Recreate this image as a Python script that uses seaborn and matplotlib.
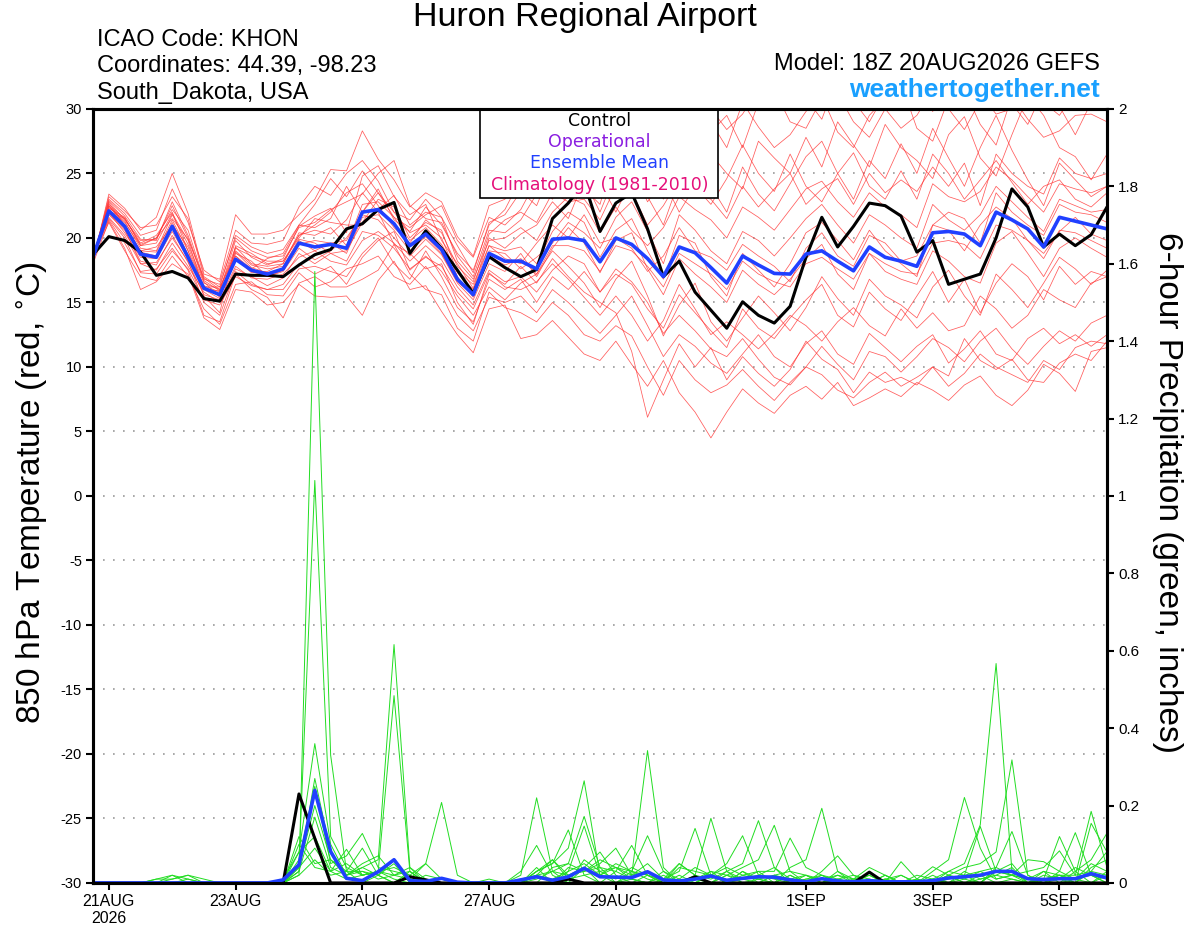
import numpy as np
import pandas as pd
import matplotlib
matplotlib.use('Agg')
import matplotlib.pyplot as plt
from matplotlib.patches import Rectangle
import seaborn as sns

# 6-hourly GEFS steps, 18Z 20AUG2026 -> 18Z 05SEP2026
times = pd.date_range('2026-08-20 18:00', periods=65, freq='6h')

# 850 hPa temperature (deg C)
control_t = [18.7, 20.1, 19.8, 18.9, 17.1, 17.4, 16.9, 15.3, 15.1, 17.2, 17.1, 17.1, 17.0,
             17.9, 18.7, 19.1, 20.7, 21.1, 22.2, 22.75, 18.8, 20.55, 19.2, 17.5, 15.7, 18.55,
             17.7, 17.0, 17.55, 21.5, 22.7, 24.3, 20.5, 22.7, 23.5, 20.7, 17.0, 18.2, 15.8,
             14.4, 13.0, 15.05, 14.0, 13.4, 14.7, 18.5, 21.6, 19.3, 20.9, 22.7, 22.5, 21.7,
             18.9, 19.8, 16.4, 16.8, 17.2, 20.0, 23.8, 22.4, 19.3, 20.3, 19.4, 20.25, 22.4]
mean_t = [18.5, 22.1, 20.9, 18.75, 18.5, 20.9, 18.5, 16.1, 15.6, 18.35, 17.5, 17.2, 17.6,
          19.6, 19.3, 19.5, 19.2, 22.0, 22.2, 21.1, 19.4, 20.3, 19.1, 16.8, 15.6, 18.8,
          18.2, 18.2, 17.6, 19.9, 20.0, 19.8, 18.15, 20.0, 19.5, 18.4, 17.0, 19.3, 18.85,
          17.7, 16.5, 18.6, 17.9, 17.25, 17.2, 18.75, 19.0, 18.2, 17.45, 19.3, 18.5, 18.2,
          17.8, 20.4, 20.5, 20.3, 19.4, 22.0, 21.4, 20.7, 19.3, 21.6, 21.3, 21.0, 20.7]

t01 = [18.2, 23.4, 22.3, 20.6, 21.6, 25.0, 21.9, 17.2, 16.8, 21.8, 20.3, 20.3, 20.6,
       21.8, 23.0, 25.3, 25.2, 28.3, 26.1, 24.5, 22.4, 23.5, 22.8, 20.1, 18.6, 22.5,
       23.0, 25.5, 24.0, 27.0, 28.8, 29.5, 26.0, 29.5, 31.0, 28.3, 25.5, 29.0, 30.8,
       29.0, 27.0, 30.5, 28.6, 27.0, 28.0, 29.8, 31.0, 28.2, 27.0, 29.5, 30.8, 32.0,
       28.5, 27.5, 30.8, 31.5, 28.8, 27.2, 31.0, 29.2, 27.8, 28.3, 29.5, 29.6, 29.0]
t02 = [18.0, 21.3, 19.2, 16.0, 16.6, 18.0, 17.2, 13.8, 12.9, 16.0, 15.8, 14.8, 15.0,
       16.4, 15.5, 15.4, 15.5, 14.0, 16.7, 18.2, 16.0, 16.3, 14.3, 12.5, 11.1, 14.5,
       14.8, 12.2, 12.5, 13.6, 12.3, 11.0, 10.5, 12.0, 10.2, 8.5, 10.5, 8.0, 6.5,
       4.5, 6.5, 8.3, 7.2, 6.4, 7.8, 8.5, 7.5, 8.8, 7.0, 7.6, 8.3, 7.7,
       8.8, 8.2, 7.4, 8.6, 9.3, 7.8, 7.0, 8.2, 10.2, 9.5, 8.1, 11.2, 11.5]
t03 = [18.6, 22.6, 21.5, 19.6, 20.2, 22.0, 19.0, 15.5, 14.2, 19.4, 18.8, 18.0, 18.2,
       20.2, 20.6, 20.3, 21.4, 23.5, 22.0, 19.5, 18.8, 17.6, 18.0, 15.0, 13.3, 17.2,
       16.4, 17.8, 16.5, 18.4, 17.0, 15.8, 15.0, 14.2, 11.2, 6.1, 9.0, 11.8, 10.0,
       11.5, 9.0, 10.8, 9.5, 8.5, 9.8, 12.0, 10.6, 9.8, 8.0, 9.6, 8.8, 9.2,
       8.6, 10.0, 9.3, 12.2, 10.5, 9.8, 10.6, 9.0, 8.8, 10.3, 11.0, 10.5, 12.0]
t04 = [18.4, 22.9, 21.7, 19.9, 19.8, 22.8, 20.2, 16.7, 15.9, 19.8, 18.5, 17.9, 18.4,
       20.9, 21.7, 22.3, 20.4, 24.8, 25.6, 23.2, 21.8, 22.6, 19.8, 18.0, 16.1, 20.0,
       19.2, 20.3, 21.0, 22.8, 21.5, 24.5, 22.0, 25.0, 26.8, 23.2, 21.0, 24.5, 26.5,
       24.0, 22.0, 25.5, 23.4, 22.1, 24.2, 26.3, 27.5, 25.0, 23.0, 26.0, 24.6, 27.3,
       25.0, 28.5, 26.2, 24.0, 27.0, 29.5, 26.8, 24.5, 22.5, 25.8, 24.5, 23.2, 24.0]
t05 = [18.3, 21.8, 20.6, 18.2, 17.9, 20.2, 18.1, 15.6, 15.2, 17.8, 16.9, 16.8, 17.2,
       18.5, 19.0, 18.2, 17.9, 19.8, 20.5, 19.6, 18.2, 19.4, 18.3, 16.2, 14.8, 17.5,
       16.6, 17.0, 15.8, 17.5, 18.6, 18.0, 15.8, 17.2, 16.4, 14.5, 13.0, 15.6, 14.2,
       12.8, 11.5, 14.5, 13.0, 12.2, 13.8, 15.2, 16.4, 14.0, 13.1, 15.8, 14.5, 13.6,
       15.5, 17.4, 15.0, 16.8, 14.2, 16.5, 18.0, 17.0, 15.2, 17.8, 16.4, 17.4, 17.0]
t06 = [18.6, 22.5, 21.3, 19.2, 19.0, 21.8, 19.5, 16.5, 16.0, 19.0, 17.9, 17.6, 17.8,
       19.9, 19.6, 18.8, 19.0, 21.2, 23.0, 22.4, 20.0, 21.2, 20.6, 17.3, 16.0, 19.4,
       19.0, 19.3, 18.0, 20.5, 22.0, 21.2, 18.5, 20.6, 21.5, 19.0, 16.8, 20.2, 19.6,
       17.0, 15.5, 18.8, 17.5, 16.2, 18.0, 20.4, 21.2, 19.8, 18.3, 20.6, 19.0, 18.0,
       17.0, 21.0, 22.0, 21.5, 19.6, 23.5, 22.0, 21.0, 20.2, 22.6, 22.0, 21.8, 21.2]
t07 = [18.5, 21.5, 20.0, 17.3, 17.2, 19.0, 17.6, 15.2, 14.8, 17.0, 16.3, 16.0, 16.4,
       18.0, 17.2, 17.8, 16.4, 18.5, 19.8, 20.5, 17.5, 18.6, 17.4, 15.5, 14.0, 16.2,
       15.2, 16.5, 17.2, 19.0, 17.8, 16.5, 14.6, 16.8, 18.2, 15.5, 12.4, 14.8, 16.5,
       13.5, 12.0, 13.8, 15.5, 14.2, 12.8, 14.6, 17.0, 15.3, 14.0, 16.8, 15.5, 14.8,
       13.8, 16.2, 17.5, 15.5, 14.0, 17.2, 16.0, 14.6, 16.5, 18.5, 17.6, 16.4, 17.5]
t08 = [18.4, 23.0, 21.9, 20.2, 20.6, 23.8, 21.2, 17.5, 16.6, 20.6, 19.6, 19.5, 19.8,
       22.4, 24.0, 23.3, 25.0, 26.0, 24.4, 22.0, 21.4, 23.0, 21.6, 19.4, 17.3, 21.2,
       21.8, 23.6, 22.5, 25.5, 24.0, 26.8, 24.3, 22.0, 24.5, 25.8, 23.0, 25.2, 27.8,
       26.5, 25.0, 23.8, 27.5, 26.2, 25.0, 27.8, 25.5, 29.0, 27.2, 25.5, 28.8, 27.0,
       26.0, 24.6, 28.0, 29.4, 26.2, 24.8, 28.0, 31.0, 29.5, 27.0, 26.3, 24.5, 26.5]
t09 = [18.7, 22.0, 20.4, 18.5, 18.4, 20.5, 18.4, 16.2, 15.5, 18.8, 18.2, 17.0, 17.4,
       19.2, 18.3, 19.0, 20.0, 21.8, 21.4, 20.0, 18.6, 19.9, 18.7, 16.5, 15.2, 18.0,
       17.4, 18.8, 17.0, 19.2, 20.8, 19.6, 17.3, 19.8, 20.4, 17.6, 15.6, 18.4, 17.2,
       16.2, 15.0, 17.5, 16.4, 15.6, 16.8, 18.4, 19.5, 17.2, 16.0, 18.8, 17.4, 16.8,
       16.4, 19.0, 18.2, 17.0, 16.5, 19.6, 20.5, 18.8, 17.0, 19.2, 20.0, 19.2, 18.5]
t10 = [18.2, 23.2, 22.1, 20.8, 21.0, 23.2, 21.5, 17.0, 16.2, 20.2, 19.3, 18.8, 19.1,
       21.0, 22.6, 24.6, 23.2, 25.2, 23.5, 21.6, 20.8, 21.8, 22.5, 19.8, 18.5, 21.6,
       21.0, 22.2, 24.5, 23.0, 25.5, 23.8, 22.6, 27.0, 25.5, 22.8, 24.5, 22.0, 24.0,
       22.6, 24.6, 27.2, 25.0, 23.6, 26.5, 24.0, 22.8, 25.0, 26.6, 24.0, 23.0, 25.2,
       23.0, 26.5, 25.0, 23.0, 24.5, 26.0, 24.3, 22.6, 24.0, 24.5, 23.0, 22.4, 23.5]
t11 = [18.5, 21.2, 19.0, 17.0, 16.7, 18.6, 17.0, 14.5, 13.3, 16.4, 16.6, 15.6, 15.5,
       17.3, 16.2, 16.6, 17.6, 18.0, 18.6, 17.0, 16.4, 17.8, 16.2, 14.0, 12.8, 15.4,
       15.0, 15.5, 14.2, 16.0, 15.0, 13.8, 12.6, 14.0, 15.5, 13.2, 10.8, 12.5, 11.6,
       10.3, 9.5, 11.0, 12.5, 10.8, 10.0, 11.8, 12.8, 11.0, 10.2, 12.6, 11.5, 10.4,
       11.6, 12.5, 10.3, 11.4, 12.8, 11.0, 10.5, 12.2, 13.0, 11.8, 12.5, 11.6, 12.5]
t12 = [18.6, 22.7, 21.0, 19.0, 18.9, 21.4, 19.0, 16.3, 15.8, 18.4, 17.3, 17.4, 18.0,
       20.4, 20.2, 20.8, 19.4, 22.6, 22.8, 21.6, 19.8, 20.8, 19.5, 17.4, 16.4, 19.4,
       18.4, 18.0, 19.6, 21.0, 20.0, 21.8, 19.6, 20.0, 19.2, 17.4, 18.6, 20.8, 19.0,
       18.5, 17.5, 19.5, 18.6, 17.8, 16.6, 19.2, 20.4, 18.6, 17.8, 20.2, 19.6, 18.2,
       18.6, 21.0, 20.6, 19.0, 21.0, 22.4, 21.5, 19.8, 18.8, 20.5, 21.6, 20.3, 19.8]
t13 = [18.3, 22.3, 21.6, 19.4, 20.0, 22.2, 20.6, 16.8, 16.4, 20.0, 19.0, 18.5, 18.6,
       20.8, 21.2, 22.2, 22.8, 23.4, 25.0, 26.0, 22.5, 21.5, 21.2, 18.6, 17.0, 20.6,
       20.4, 21.4, 23.4, 25.2, 24.0, 25.6, 23.2, 26.2, 28.0, 26.5, 24.0, 27.5, 25.8,
       28.2, 29.5, 27.0, 30.5, 31.5, 29.0, 28.5, 30.8, 31.2, 29.0, 27.8, 30.0, 28.5,
       29.5, 31.5, 30.0, 28.4, 30.6, 32.0, 30.4, 28.8, 31.5, 30.2, 28.0, 30.5, 30.2]
t14 = [18.6, 21.6, 20.2, 18.0, 17.5, 19.6, 17.8, 15.8, 15.0, 17.6, 17.0, 16.3, 16.9,
       18.8, 18.0, 18.8, 18.2, 20.5, 20.2, 19.2, 17.6, 18.5, 17.8, 15.8, 14.5, 17.3,
       16.2, 16.0, 16.6, 18.0, 16.8, 15.4, 14.0, 15.5, 14.0, 12.0, 13.6, 16.4, 14.5,
       12.5, 13.5, 12.5, 11.4, 12.6, 14.0, 13.2, 12.0, 13.5, 14.6, 13.2, 12.4, 14.5,
       13.0, 14.2, 12.8, 13.2, 15.5, 14.5, 13.0, 14.0, 16.0, 15.2, 14.6, 16.5, 17.0]
t15 = [18.5, 22.4, 21.2, 19.4, 19.6, 21.9, 19.8, 16.0, 15.3, 18.9, 17.7, 17.3, 17.5,
       19.5, 19.8, 19.6, 19.8, 22.0, 23.5, 22.0, 20.4, 21.0, 20.0, 17.0, 15.4, 19.0,
       18.8, 17.6, 18.5, 19.6, 21.2, 20.4, 19.2, 21.6, 22.8, 20.5, 18.0, 21.8, 20.6,
       19.0, 18.0, 20.5, 19.8, 18.6, 20.0, 21.5, 22.6, 21.0, 19.6, 21.8, 21.0, 20.0,
       19.2, 22.6, 21.4, 20.6, 21.8, 24.0, 22.8, 21.6, 20.5, 23.0, 22.5, 22.0, 22.2]
t16 = [18.4, 22.8, 21.4, 19.8, 19.9, 22.5, 20.0, 16.6, 15.4, 19.2, 18.6, 18.2, 18.2,
       20.0, 21.5, 21.2, 21.0, 21.0, 22.2, 23.3, 21.0, 22.0, 21.6, 18.2, 16.8, 19.8,
       20.0, 20.8, 19.8, 22.0, 23.2, 22.6, 20.4, 22.4, 20.6, 19.4, 20.8, 23.2, 22.2,
       21.4, 20.0, 22.4, 21.6, 20.6, 22.2, 23.8, 24.4, 22.8, 21.6, 23.5, 22.4, 21.8,
       20.8, 24.2, 23.2, 22.8, 23.6, 25.5, 24.5, 23.2, 22.0, 24.2, 23.8, 23.5, 24.0]
t17 = [18.5, 21.9, 20.7, 18.0, 18.1, 20.0, 18.2, 15.0, 14.0, 17.4, 16.4, 16.0, 16.0,
       17.6, 17.8, 17.4, 17.0, 18.8, 20.0, 18.0, 16.8, 19.0, 17.0, 14.6, 13.5, 16.8,
       16.0, 16.8, 15.0, 17.0, 16.0, 17.4, 15.8, 17.6, 16.6, 15.0, 12.6, 14.0, 12.8,
       11.4, 10.8, 12.2, 10.6, 9.2, 8.6, 10.0, 11.6, 10.2, 9.0, 11.2, 10.8, 9.6,
       10.8, 12.2, 11.5, 10.4, 12.0, 13.0, 11.4, 10.2, 11.6, 12.8, 12.0, 13.4, 14.0]
t18 = [18.7, 22.2, 21.0, 19.0, 19.3, 21.0, 19.3, 16.2, 16.2, 18.6, 17.6, 18.4, 18.8,
       21.0, 20.8, 21.5, 24.0, 22.0, 23.8, 21.4, 20.5, 22.4, 21.0, 18.8, 17.5, 21.0,
       22.2, 24.6, 23.5, 26.4, 27.8, 28.5, 25.6, 28.0, 29.5, 27.6, 26.8, 31.0, 29.2,
       30.0, 28.4, 29.6, 31.6, 30.4, 32.0, 30.8, 29.2, 32.5, 30.6, 29.0, 31.2, 32.5,
       31.5, 29.8, 32.6, 33.0, 31.2, 29.6, 30.0, 32.5, 30.5, 29.5, 31.4, 30.8, 31.2]
t19 = [18.4, 22.5, 21.0, 18.9, 18.6, 21.2, 18.7, 16.0, 15.9, 18.6, 17.4, 17.0, 17.5,
       19.8, 19.0, 19.6, 18.8, 21.6, 21.8, 20.6, 19.0, 20.1, 18.8, 16.6, 15.6, 18.6,
       17.9, 18.4, 17.2, 19.4, 19.4, 19.0, 17.4, 19.4, 19.0, 17.8, 16.2, 18.8, 18.0,
       17.2, 16.0, 18.2, 17.2, 16.6, 16.2, 18.0, 18.5, 17.6, 16.8, 18.8, 18.0, 17.4,
       17.2, 19.6, 19.8, 19.5, 18.4, 21.0, 20.6, 19.8, 18.4, 20.6, 20.4, 19.8, 19.2]
t20 = [18.6, 21.4, 19.6, 17.4, 17.6, 19.2, 17.5, 14.0, 13.5, 17.2, 16.0, 15.4, 13.8,
       16.5, 17.0, 16.2, 16.2, 16.8, 17.5, 19.5, 17.2, 16.0, 15.6, 13.0, 12.0, 15.8,
       14.6, 14.2, 13.5, 15.0, 14.0, 12.5, 12.0, 13.2, 12.4, 10.0, 7.8, 10.5, 9.0,
       8.0, 8.6, 9.8, 8.5, 7.4, 8.8, 10.0, 9.4, 8.2, 7.6, 8.8, 9.6, 8.5,
       9.2, 10.0, 8.5, 9.5, 11.0, 10.0, 9.4, 8.8, 10.5, 9.8, 11.5, 12.0, 11.8]
t21 = [18.3, 22.1, 21.5, 19.5, 20.0, 21.5, 19.9, 16.9, 16.0, 19.3, 18.0, 17.8, 18.0,
       20.2, 21.0, 22.0, 23.5, 24.2, 22.5, 20.8, 19.6, 21.4, 20.4, 17.8, 16.6, 20.3,
       21.4, 22.0, 21.2, 23.5, 22.8, 23.0, 21.4, 24.0, 23.6, 21.0, 22.5, 24.6, 23.4,
       23.0, 21.5, 24.0, 22.4, 23.8, 25.0, 22.6, 23.8, 24.6, 22.6, 25.0, 23.5, 24.5,
       23.6, 25.5, 24.0, 25.8, 22.5, 26.5, 25.0, 24.0, 23.4, 26.2, 25.0, 24.6, 25.0]
temp_members = [t01, t02, t03, t04, t05, t06, t07, t08, t09, t10, t11,
                t12, t13, t14, t15, t16, t17, t18, t19, t20, t21]

# 6-hour precipitation (inches)
control_p = [0, 0, 0, 0, 0, 0, 0, 0, 0, 0, 0, 0, 0,
             0.23, 0.115, 0, 0, 0, 0, 0, 0.016, 0.008, 0, 0, 0, 0,
             0, 0, 0, 0, 0.01, 0, 0, 0, 0, 0, 0, 0, 0.016,
             0, 0, 0, 0, 0, 0, 0, 0, 0, 0, 0.028, 0, 0,
             0, 0, 0, 0, 0, 0, 0, 0, 0, 0, 0, 0, 0]
mean_p = [0, 0, 0, 0, 0, 0, 0, 0, 0, 0, 0, 0, 0.008,
          0.047, 0.239, 0.081, 0.012, 0.006, 0.029, 0.06, 0.006, 0.004, 0.012, 0.002, 0, 0,
          0, 0.008, 0.016, 0.007, 0.016, 0.038, 0.016, 0.015, 0.014, 0.029, 0.008, 0.005, 0.01,
          0.018, 0.007, 0.012, 0.016, 0.015, 0.008, 0.003, 0.011, 0.005, 0.003, 0.006, 0.003, 0.003,
          0.003, 0.006, 0.013, 0.016, 0.02, 0.03, 0.03, 0.011, 0.009, 0.011, 0.011, 0.024, 0.013]

p01 = [0, 0, 0, 0, 0, 0.02, 0.01, 0, 0, 0, 0, 0, 0,
       0.02, 1.58, 0.33, 0.03, 0, 0.02, 0, 0, 0, 0.01, 0, 0, 0,
       0, 0.02, 0.22, 0.03, 0, 0.04, 0, 0, 0.01, 0, 0, 0, 0.02,
       0.167, 0.03, 0, 0, 0.02, 0, 0, 0.01, 0, 0, 0, 0, 0,
       0, 0, 0, 0, 0.02, 0, 0.01, 0, 0, 0.03, 0.13, 0.02, 0]
p02 = [0, 0, 0, 0, 0.01, 0.01, 0.02, 0, 0, 0, 0, 0, 0,
       0.05, 1.04, 0.12, 0.04, 0.02, 0.03, 0.484, 0.03, 0, 0, 0, 0, 0,
       0, 0, 0.03, 0.05, 0.09, 0.264, 0.02, 0, 0.03, 0.01, 0, 0, 0,
       0.02, 0, 0.03, 0, 0, 0.02, 0, 0, 0.01, 0, 0, 0, 0.02,
       0, 0, 0.02, 0, 0, 0.03, 0.05, 0, 0.01, 0.12, 0.03, 0, 0.02]
p03 = [0, 0, 0, 0, 0, 0, 0, 0, 0, 0, 0, 0, 0.01,
       0.08, 0.36, 0.10, 0.02, 0.04, 0.06, 0.616, 0.04, 0, 0, 0, 0, 0,
       0, 0.01, 0.02, 0, 0.04, 0.03, 0.06, 0.04, 0.02, 0.342, 0.04, 0, 0.01,
       0, 0.02, 0, 0.01, 0, 0.02, 0, 0.02, 0, 0.01, 0.02, 0, 0,
       0, 0, 0.03, 0.05, 0.15, 0.567, 0.03, 0, 0.01, 0.02, 0, 0.03, 0.02]
p04 = [0, 0, 0, 0, 0, 0.01, 0.02, 0.01, 0, 0, 0, 0, 0,
       0.03, 0.27, 0.08, 0.02, 0.03, 0.01, 0.02, 0.01, 0.05, 0.208, 0.02, 0, 0,
       0, 0, 0.03, 0.05, 0.137, 0.02, 0, 0.03, 0.01, 0, 0.02, 0, 0,
       0.02, 0, 0.03, 0.01, 0, 0.04, 0.06, 0.193, 0.03, 0, 0, 0.02, 0,
       0, 0.03, 0.06, 0.221, 0.09, 0.01, 0.02, 0.01, 0.03, 0, 0.01, 0.05, 0.03]
p05 = [0, 0, 0, 0, 0, 0, 0.01, 0, 0, 0, 0, 0, 0,
       0.06, 0.25, 0.05, 0.07, 0.128, 0.04, 0.03, 0.02, 0, 0, 0, 0, 0,
       0, 0, 0.02, 0.03, 0.05, 0.172, 0.04, 0, 0.02, 0.05, 0.01, 0.03, 0.141,
       0.02, 0, 0.01, 0.03, 0, 0, 0.01, 0.02, 0, 0, 0.01, 0, 0,
       0.01, 0, 0.02, 0.04, 0.05, 0.08, 0.318, 0.02, 0, 0.01, 0.04, 0.02, 0.01]
p06 = [0, 0, 0, 0, 0, 0, 0, 0, 0, 0, 0, 0, 0,
       0.04, 0.20, 0.06, 0.03, 0.09, 0.02, 0.05, 0, 0.02, 0.01, 0, 0, 0,
       0, 0, 0.04, 0, 0.03, 0.147, 0.02, 0.05, 0.03, 0.02, 0, 0.05, 0.02,
       0, 0.03, 0.05, 0.161, 0.04, 0.01, 0, 0, 0.02, 0, 0, 0.01, 0,
       0, 0.02, 0, 0.03, 0.01, 0.02, 0.04, 0, 0.03, 0.02, 0.02, 0.185, 0.04]
p07 = [0, 0, 0, 0, 0.01, 0.02, 0, 0, 0, 0, 0, 0, 0,
       0.03, 0.17, 0.04, 0.02, 0.05, 0.07, 0.02, 0.03, 0, 0, 0, 0, 0.01,
       0, 0.03, 0.097, 0.02, 0, 0.06, 0.03, 0.04, 0.01, 0, 0.03, 0.01, 0.04,
       0.02, 0.05, 0.122, 0.02, 0.04, 0, 0.02, 0, 0.03, 0.01, 0, 0.02, 0,
       0, 0.01, 0, 0.02, 0.146, 0.03, 0.02, 0, 0.01, 0.02, 0, 0.154, 0.08]
p08 = [0, 0, 0, 0, 0, 0, 0, 0, 0, 0, 0, 0, 0,
       0.10, 0.04, 0.03, 0.087, 0.02, 0.03, 0.01, 0, 0, 0, 0, 0, 0,
       0, 0, 0.02, 0.06, 0.02, 0.03, 0.05, 0.09, 0.02, 0.03, 0, 0.02, 0,
       0.03, 0.02, 0.04, 0.06, 0.149, 0.03, 0.02, 0.01, 0, 0, 0, 0.01, 0.02,
       0, 0, 0.01, 0.02, 0.03, 0.04, 0.133, 0.02, 0, 0, 0.03, 0.06, 0.129]
p09 = [0, 0, 0, 0, 0, 0, 0, 0, 0, 0, 0, 0, 0,
       0.12, 0.05, 0.06, 0.02, 0.04, 0.02, 0, 0.03, 0, 0, 0, 0, 0,
       0, 0, 0, 0.04, 0.05, 0.03, 0.04, 0.03, 0.097, 0.02, 0, 0.04, 0.03,
       0.02, 0.04, 0.02, 0.03, 0.03, 0.116, 0.04, 0.02, 0.01, 0, 0.02, 0, 0,
       0.01, 0, 0.02, 0.01, 0, 0.03, 0.02, 0.03, 0.04, 0.083, 0.02, 0.03, 0.081]
p10 = [0, 0, 0, 0, 0, 0, 0, 0, 0, 0, 0, 0, 0,
       0.08, 0.12, 0.03, 0.05, 0.02, 0.03, 0.04, 0.02, 0.05, 0.01, 0, 0, 0,
       0, 0, 0.02, 0.01, 0.03, 0.05, 0.02, 0.04, 0.03, 0.122, 0.03, 0, 0.01,
       0.03, 0, 0.02, 0.01, 0.02, 0.03, 0, 0.03, 0.07, 0.02, 0, 0.01, 0,
       0, 0.01, 0.03, 0.02, 0, 0.04, 0.02, 0.06, 0.055, 0.03, 0.01, 0.02, 0]
p11 = [0, 0, 0, 0, 0, 0, 0, 0, 0, 0, 0, 0, 0,
       0.02, 0.06, 0.02, 0.03, 0.03, 0.02, 0.06, 0.01, 0, 0, 0, 0, 0,
       0, 0, 0.01, 0.03, 0.02, 0.04, 0.08, 0.02, 0, 0.02, 0, 0.01, 0,
       0, 0.02, 0.01, 0, 0.02, 0.01, 0.02, 0, 0.01, 0.02, 0.01, 0, 0.055,
       0.01, 0.042, 0.02, 0, 0.01, 0.02, 0.01, 0, 0.02, 0.01, 0, 0.04, 0.06]
p12 = [0, 0, 0, 0, 0, 0, 0, 0, 0, 0, 0, 0, 0,
       0.04, 0.09, 0.03, 0.01, 0.02, 0.03, 0.02, 0.04, 0.01, 0, 0, 0, 0,
       0, 0, 0.03, 0.06, 0.01, 0.02, 0.03, 0.01, 0.04, 0.02, 0.01, 0.05, 0.02,
       0.01, 0.03, 0.01, 0.02, 0.01, 0, 0.01, 0.01, 0.02, 0.01, 0.04, 0.02, 0,
       0.02, 0.01, 0, 0.01, 0.03, 0.01, 0.02, 0.01, 0, 0.02, 0.01, 0, 0.03]
precip_members = [p01, p02, p03, p04, p05, p06, p07, p08, p09, p10, p11, p12]

# axis ticks / labels
date_ticks = pd.to_datetime(['2026-08-21', '2026-08-23', '2026-08-25', '2026-08-27',
                             '2026-08-29', '2026-09-01', '2026-09-03', '2026-09-05'])
date_labels = ['21AUG\n2026', '23AUG', '25AUG', '27AUG', '29AUG', '1SEP', '3SEP', '5SEP']
temp_ticks = list(range(-30, 31, 5))
precip_ticks = [0, 0.2, 0.4, 0.6, 0.8, 1.0, 1.2, 1.4, 1.6, 1.8, 2.0]
precip_labels = ['0', '0.2', '0.4', '0.6', '0.8', '1', '1.2', '1.4', '1.6', '1.8', '2']

for s in temp_members + precip_members + [control_t, mean_t, control_p, mean_p]:
    assert len(s) == len(times)


def long_form(series_list, name):
    return pd.DataFrame({
        'time': np.tile(times, len(series_list)),
        'member': np.repeat(np.arange(len(series_list)), len(times)),
        name: np.concatenate(series_list),
    })


temp_df = long_form(temp_members, 'temp')
precip_df = long_form(precip_members, 'precip')

sns.set_style('ticks')
plt.rcParams['font.family'] = ['Liberation Sans', 'DejaVu Sans']
plt.rcParams.update({'text.color': 'black', 'axes.edgecolor': 'black',
                     'xtick.color': 'black', 'ytick.color': 'black',
                     'axes.labelcolor': 'black'})

fig = plt.figure(figsize=(12, 9.27), dpi=100)
ax = fig.add_axes([0.0775, 0.0475, 0.845, 0.835])
ax2 = ax.twinx()

# temperature
sns.lineplot(data=temp_df, x='time', y='temp', units='member', estimator=None,
             color='#ff3333', lw=0.55, alpha=0.8, ax=ax, legend=False)
sns.lineplot(x=times, y=control_t, color='black', lw=2.2, ax=ax)
sns.lineplot(x=times, y=mean_t, color='#2040ff', lw=2.6, ax=ax)

# precipitation
sns.lineplot(data=precip_df, x='time', y='precip', units='member', estimator=None,
             color='#22dd22', lw=0.7, ax=ax2, legend=False)
sns.lineplot(x=times, y=control_p, color='black', lw=2.2, ax=ax2)
sns.lineplot(x=times, y=mean_p, color='#2040ff', lw=2.6, ax=ax2)

ax.set_xlim(times[0], times[-1])
ax.set_ylim(-30, 30)
ax2.set_ylim(0, 2)
ax.set_yticks(temp_ticks)
ax.set_yticklabels([str(t) for t in temp_ticks])
ax2.set_yticks(precip_ticks)
ax2.set_yticklabels(precip_labels)
ax.set_xticks(date_ticks)
ax.set_xticklabels(date_labels)
ax.set_xlabel('')
ax.set_ylabel('')
ax2.set_ylabel('')

for a in (ax, ax2):
    a.tick_params(direction='out', length=5, width=1.5, pad=3)
    for sp in a.spines.values():
        sp.set_linewidth(2.2)
        sp.set_visible(True)
        sp.set_color('black')
ax.tick_params(axis='x', labelsize=11.5)
ax.tick_params(axis='y', labelsize=10.5)
ax2.tick_params(axis='y', labelsize=11)

ax.grid(axis='y', color='#999999', linestyle=(0, (1, 5)), lw=1.2)
ax.set_axisbelow(True)

# legend box
ax.add_patch(Rectangle((0.3817, 0.885), 0.2347, 0.115, transform=ax.transAxes,
                       facecolor='white', edgecolor='black', lw=1.2, zorder=5))
legend_items = [('Control', 'black'), ('Operational', '#8a1ee0'),
                ('Ensemble Mean', '#2040ff'), ('Climatology (1981-2010)', '#e5107a')]
for k, (txt, col) in enumerate(legend_items):
    ax.text(0.4995, 0.9845 - 0.0275 * k, txt, color=col, fontsize=12.5, ha='center',
            va='center', transform=ax.transAxes, zorder=6, family=['DejaVu Sans'])

# axis labels
fig.text(0.027, 0.469, '850 hPa Temperature (red, $^{\\circ}$C)', rotation=90,
         ha='center', va='center', fontsize=24)
fig.text(0.973, 0.469, '6-hour Precipitation (green, inches)', rotation=270,
         ha='center', va='center', fontsize=24)

# header
fig.text(0.4875, 0.981, 'Huron Regional Airport', ha='center', va='center', fontsize=24.5)
fig.text(0.081, 0.957, 'ICAO Code: KHON', ha='left', va='center', fontsize=17)
fig.text(0.081, 0.929, 'Coordinates: 44.39, -98.23', ha='left', va='center', fontsize=17)
fig.text(0.081, 0.900, 'South_Dakota, USA', ha='left', va='center', fontsize=17)
fig.text(0.9165, 0.931, 'Model: 18Z 20AUG2026 GEFS', ha='right', va='center', fontsize=17)
fig.text(0.9165, 0.903, 'weathertogether.net', ha='right', va='center', fontsize=19,
         fontweight='bold', color='#1aa0ff')

fig.savefig('out.png', dpi=100)
